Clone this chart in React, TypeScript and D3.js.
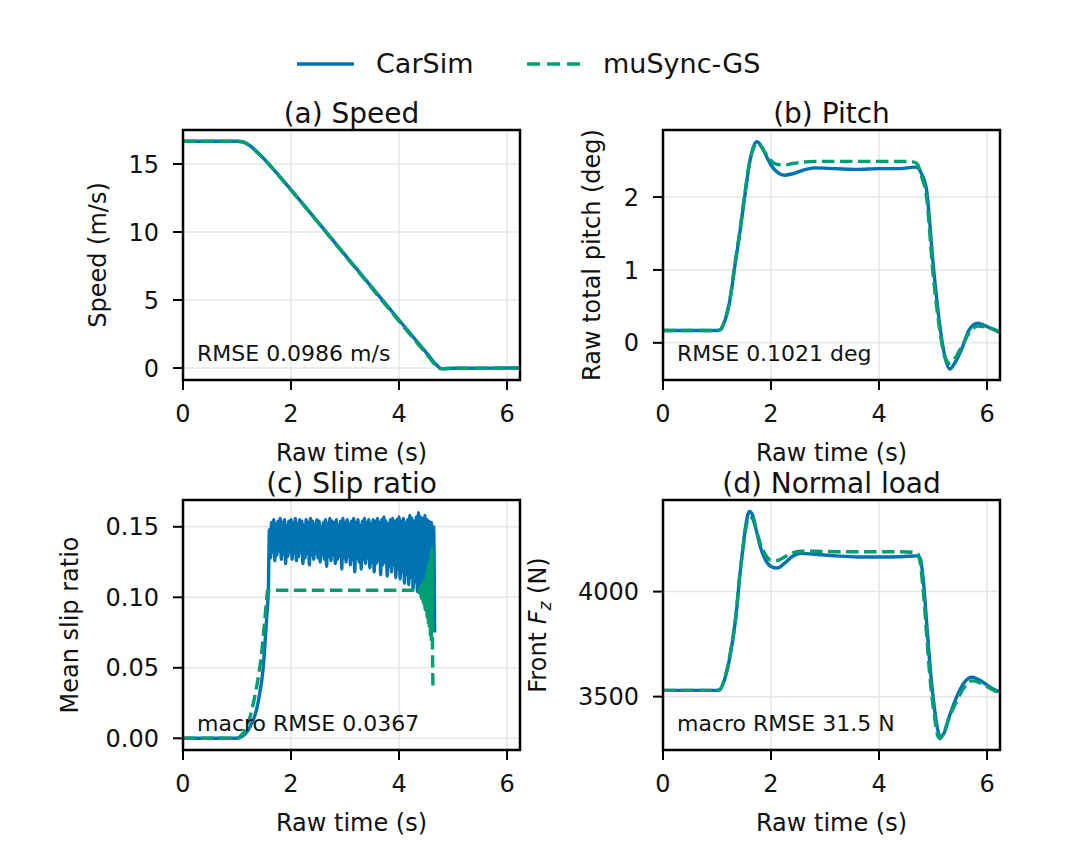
import React from "react"
import * as d3 from "d3"

const BLUE = "#0173b2"
const GREEN = "#029e73"
const FONT = "DejaVu Sans"

const X_DOMAIN: [number, number] = [0, 6.24]
const X_TICKS = [0, 2, 4, 6]

// (a) speed
const speedT = [0, 1.0, 1.1, 1.2, 1.3, 1.4, 1.5, 2.0, 3.0, 4.0, 4.5, 4.7, 4.76, 4.8, 5.0, 6.24]
const speedCarSim = [16.67, 16.67, 16.64, 16.45, 16.15, 15.78, 15.38, 13.1, 8.32, 3.53, 1.15, 0.2, 0.0, -0.04, -0.02, 0.0]
const speedMuSync = [16.67, 16.67, 16.63, 16.44, 16.13, 15.76, 15.36, 13.08, 8.28, 3.45, 1.07, 0.12, -0.04, -0.05, -0.02, 0.0]

// (b) pitch
const pitchT = [0, 1.0, 1.06, 1.13, 1.24, 1.33, 1.43, 1.52, 1.61, 1.68, 1.74, 1.8, 1.9, 2.0, 2.1, 2.25, 2.4, 2.6, 2.8, 3.2, 3.6, 4.0, 4.4, 4.65, 4.72, 4.78, 4.88, 5.0, 5.12, 5.22, 5.31, 5.4, 5.55, 5.67, 5.83, 5.95, 6.1, 6.24]
const pitchCarSim = [0.17, 0.17, 0.18, 0.27, 0.59, 1.05, 1.55, 2.05, 2.5, 2.7, 2.76, 2.72, 2.58, 2.44, 2.35, 2.3, 2.32, 2.37, 2.4, 2.39, 2.38, 2.39, 2.39, 2.41, 2.4, 2.33, 2.1, 1.1, 0.27, -0.19, -0.36, -0.28, -0.05, 0.18, 0.27, 0.24, 0.19, 0.14]
const pitchMuSync = [0.17, 0.17, 0.18, 0.28, 0.6, 1.07, 1.57, 2.07, 2.5, 2.68, 2.74, 2.71, 2.6, 2.5, 2.45, 2.44, 2.46, 2.48, 2.49, 2.49, 2.49, 2.49, 2.49, 2.48, 2.44, 2.3, 2.0, 0.95, 0.2, -0.2, -0.28, -0.22, -0.02, 0.14, 0.23, 0.22, 0.19, 0.15]

// (c) slip ratio
const slipRiseT = [0, 1.0, 1.05, 1.15, 1.24, 1.3, 1.36, 1.42, 1.48, 1.52, 1.55, 1.58]
const slipRiseCarSim = [0, 0, 0.0005, 0.003, 0.008, 0.013, 0.02, 0.032, 0.048, 0.068, 0.086, 0.105]
// CarSim chatter: alternating peaks / troughs, one sample every 0.02 s from 1.60 s
const slipBandT0 = 1.6
const slipBandDt = 0.02
const slipBandHigh = [
  0.148, 0.153, 0.155, 0.152, 0.154, 0.156, 0.153, 0.155, 0.151, 0.154, 0.155,
  0.153, 0.156, 0.152, 0.155, 0.154, 0.151, 0.155, 0.153, 0.156, 0.154, 0.152, 0.155,
  0.154, 0.15, 0.153, 0.155, 0.152, 0.156, 0.154, 0.153, 0.155, 0.151, 0.154, 0.156,
  0.153, 0.155, 0.152, 0.154, 0.156, 0.153, 0.155, 0.151, 0.154, 0.156, 0.153, 0.155,
  0.152, 0.155, 0.154, 0.156, 0.153, 0.155, 0.157, 0.154, 0.152, 0.155, 0.156, 0.154,
  0.155, 0.157, 0.154, 0.156, 0.153, 0.155, 0.158, 0.156, 0.154, 0.157, 0.16, 0.157,
  0.156, 0.158, 0.155, 0.154, 0.153, 0.15,
]
const slipBandLow = [
  0.128, 0.132, 0.126, 0.13, 0.133, 0.127, 0.131, 0.124, 0.129, 0.132, 0.127,
  0.131, 0.126, 0.129, 0.132, 0.124, 0.128, 0.131, 0.123, 0.13, 0.127, 0.131, 0.128,
  0.125, 0.13, 0.127, 0.122, 0.129, 0.126, 0.13, 0.124, 0.127, 0.129, 0.12, 0.128,
  0.125, 0.129, 0.123, 0.127, 0.118, 0.128, 0.125, 0.12, 0.127, 0.124, 0.128, 0.121,
  0.125, 0.118, 0.124, 0.126, 0.116, 0.123, 0.125, 0.115, 0.122, 0.118, 0.123, 0.114,
  0.12, 0.113, 0.118, 0.11, 0.116, 0.109, 0.114, 0.106, 0.111, 0.104, 0.103, 0.099,
  0.097, 0.093, 0.089, 0.085, 0.08, 0.075,
]
const slipRiseMuT = [0, 1.0, 1.05, 1.15, 1.24, 1.32, 1.4, 1.46, 1.5, 1.54, 1.57, 4.36]
const slipRiseMuSync = [0, 0, 0.001, 0.006, 0.015, 0.028, 0.045, 0.062, 0.078, 0.095, 0.105, 0.105]
// muSync-GS chatter before the stop, one sample every 0.01 s from 4.37 s
const slipMuBandT0 = 4.37
const slipMuBandDt = 0.01
const slipMuBandHigh = [0.106, 0.107, 0.108, 0.109, 0.11, 0.112, 0.114, 0.117, 0.12, 0.124, 0.128, 0.132, 0.135]
const slipMuBandLow = [0.103, 0.101, 0.099, 0.097, 0.095, 0.092, 0.089, 0.086, 0.082, 0.078, 0.073, 0.068, 0.062]
const slipMuEndT = 4.63
const slipMuEnd = 0.034

// (d) normal load
const loadT = [0, 1.0, 1.05, 1.15, 1.24, 1.35, 1.42, 1.48, 1.54, 1.6, 1.65, 1.72, 1.8, 1.9, 2.0, 2.12, 2.25, 2.4, 2.55, 2.8, 3.2, 3.6, 4.0, 4.4, 4.7, 4.76, 4.82, 4.88, 4.94, 5.03, 5.08, 5.13, 5.2, 5.3, 5.44, 5.58, 5.72, 5.85, 6.0, 6.12, 6.24]
const loadCarSim = [3530, 3530, 3533, 3590, 3690, 3880, 4071, 4210, 4327, 4381, 4370, 4300, 4215, 4150, 4120, 4112, 4135, 4168, 4182, 4178, 4170, 4165, 4165, 4166, 4170, 4160, 4055, 3860, 3660, 3437, 3350, 3310, 3325, 3405, 3500, 3568, 3592, 3580, 3555, 3535, 3522]
const loadMuSync = [3530, 3530, 3533, 3595, 3700, 3890, 4075, 4205, 4310, 4355, 4350, 4300, 4230, 4175, 4150, 4148, 4165, 4185, 4192, 4192, 4190, 4190, 4190, 4190, 4185, 4140, 4000, 3800, 3600, 3400, 3320, 3300, 3330, 3400, 3480, 3545, 3575, 3568, 3548, 3530, 3518]

type Pt = [number, number]

const zip = (t: number[], v: number[]): Pt[] => t.map((x, i) => [x, v[i]])

const band = (t0: number, dt: number, hi: number[], lo: number[]): Pt[] =>
  hi.flatMap((h, i) => [
    [t0 + 2 * i * dt, h] as Pt,
    [t0 + (2 * i + 1) * dt, lo[i]] as Pt,
  ])

const slipCarSimPts = [...zip(slipRiseT, slipRiseCarSim), ...band(slipBandT0, slipBandDt, slipBandHigh, slipBandLow)]
const slipMuSyncPts = [
  ...zip(slipRiseMuT, slipRiseMuSync),
  ...band(slipMuBandT0, slipMuBandDt, slipMuBandHigh, slipMuBandLow),
  [slipMuEndT, slipMuEnd] as Pt,
]

type PanelDef = {
  id: string
  left: number
  top: number
  title: string
  yLabel: React.ReactNode
  yLabelX: number
  yDomain: [number, number]
  yTicks: number[]
  yFmt: (v: number) => string
  note: string
  carsim: Pt[]
  musync: Pt[]
}

const PW = 337
const PH = 250
const INK = "#111"

const panels: PanelDef[] = [
  {
    id: "a", left: 183, top: 130, title: "(a) Speed", yLabel: "Speed (m/s)", yLabelX: 98,
    yDomain: [-0.88, 17.5], yTicks: [0, 5, 10, 15], yFmt: (v) => d3.format("d")(v),
    note: "RMSE 0.0986 m/s", carsim: zip(speedT, speedCarSim), musync: zip(speedT, speedMuSync),
  },
  {
    id: "b", left: 663, top: 130, title: "(b) Pitch", yLabel: "Raw total pitch (deg)", yLabelX: 592,
    yDomain: [-0.51, 2.92], yTicks: [0, 1, 2], yFmt: (v) => d3.format("d")(v),
    note: "RMSE 0.1021 deg", carsim: zip(pitchT, pitchCarSim), musync: zip(pitchT, pitchMuSync),
  },
  {
    id: "c", left: 183, top: 500, title: "(c) Slip ratio", yLabel: "Mean slip ratio", yLabelX: 70,
    yDomain: [-0.0083, 0.169], yTicks: [0, 0.05, 0.1, 0.15], yFmt: (v) => d3.format(".2f")(v),
    note: "macro RMSE 0.0367", carsim: slipCarSimPts, musync: slipMuSyncPts,
  },
  {
    id: "d", left: 663, top: 500, title: "(d) Normal load",
    yLabel: (
      <>
        Front <tspan fontStyle="italic">F</tspan>
        <tspan fontStyle="italic" fontSize={17} dy={5}>z</tspan>
        <tspan dy={-5}> (N)</tspan>
      </>
    ),
    yLabelX: 538,
    yDomain: [3246, 4436], yTicks: [3500, 4000], yFmt: (v) => d3.format("d")(v),
    note: "macro RMSE 31.5 N", carsim: zip(loadT, loadCarSim), musync: zip(loadT, loadMuSync),
  },
]

const Panel: React.FC<{ p: PanelDef }> = ({ p }) => {
  const x = d3.scaleLinear().domain(X_DOMAIN).range([0, PW])
  const y = d3.scaleLinear().domain(p.yDomain).range([PH, 0])
  const line = d3
    .line<Pt>()
    .x((d) => x(d[0]))
    .y((d) => y(d[1]))
    .curve(d3.curveMonotoneX)
  const clipId = `clip-${p.id}`
  return (
    <g transform={`translate(${p.left},${p.top})`} fontFamily={FONT}>
      <defs>
        <clipPath id={clipId}>
          <rect x={0} y={0} width={PW} height={PH} />
        </clipPath>
      </defs>
      {X_TICKS.map((t) => (
        <line key={`gx${t}`} x1={x(t)} x2={x(t)} y1={0} y2={PH} stroke="#e6e6e6" strokeWidth={1.5} />
      ))}
      {p.yTicks.map((t) => (
        <line key={`gy${t}`} x1={0} x2={PW} y1={y(t)} y2={y(t)} stroke="#e6e6e6" strokeWidth={1.5} />
      ))}
      <g clipPath={`url(#${clipId})`}>
        <path d={line(p.carsim) ?? ""} fill="none" stroke={BLUE} strokeWidth={3.4} strokeLinejoin="round" />
        <path d={line(p.musync) ?? ""} fill="none" stroke={GREEN} strokeWidth={3.4} strokeDasharray="12.5,5.5" />
      </g>
      <text x={14} y={PH - 19} fontSize={22} fill={INK}>{p.note}</text>
      <rect x={0} y={0} width={PW} height={PH} fill="none" stroke="#000" strokeWidth={2.5} />
      {X_TICKS.map((t) => (
        <g key={`tx${t}`} transform={`translate(${x(t)},${PH})`}>
          <line y1={0} y2={10} stroke="#000" strokeWidth={2} />
          <text y={42} textAnchor="middle" fontSize={24} fill={INK}>{t}</text>
        </g>
      ))}
      {p.yTicks.map((t) => (
        <g key={`ty${t}`} transform={`translate(0,${y(t)})`}>
          <line x1={0} x2={-10} stroke="#000" strokeWidth={2} />
          <text x={-24} dy="0.36em" textAnchor="end" fontSize={24} fill={INK}>{p.yFmt(t)}</text>
        </g>
      ))}
      <text x={PW / 2} y={-7} textAnchor="middle" fontSize={28} fill={INK}>{p.title}</text>
      <text x={PW / 2} y={PH + 81} textAnchor="middle" fontSize={24} fill={INK}>Raw time (s)</text>
      <text
        transform={`translate(${p.yLabelX - p.left + 8},${PH / 2}) rotate(-90)`}
        textAnchor="middle"
        fontSize={24}
        fill={INK}
      >
        {p.yLabel}
      </text>
    </g>
  )
}

const App: React.FC = () => {
  return (
    <svg
      width={1080}
      height={864}
      style={{ position: "absolute", left: 0, top: 0, background: "#fff" }}
    >
      <rect width={1080} height={864} fill="#fff" />
      <g fontFamily={FONT} fontSize={27} fill={INK}>
        <line x1={297} x2={354} y1={64} y2={64} stroke={BLUE} strokeWidth={3.4} />
        <text x={376} y={73}>CarSim</text>
        <line x1={527} x2={581} y1={64} y2={64} stroke={GREEN} strokeWidth={3.4} strokeDasharray="13,7" />
        <text x={603} y={73}>muSync-GS</text>
      </g>
      {panels.map((p) => (
        <Panel key={p.id} p={p} />
      ))}
    </svg>
  )
}

export default App
